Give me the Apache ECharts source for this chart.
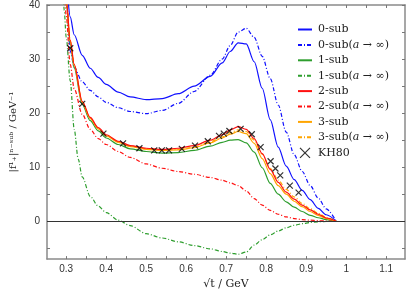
<!DOCTYPE html>
<html><head><meta charset="utf-8">
<script src="https://cdn.jsdelivr.net/npm/echarts@6/dist/echarts.min.js"></script>
<style>html,body{margin:0;padding:0;background:#fff}#c{width:407px;height:295px}</style>
</head><body><div id="c"></div>
<script>
// Shared sqrt(t) grid (GeV) for the solution curves
const xGrid = [0.295,0.30,0.31,0.32,0.34,0.36,0.38,0.40,0.43,0.46,0.50,0.54,0.58,0.62,0.66,0.69,0.71,0.73,0.75,0.77,0.79,0.81,0.83,0.85,0.87,0.89,0.91,0.93,0.95,0.975];
const sub0      = [50,43.5,37.8,34.5,30.7,28.3,26.6,25.3,23.9,23.0,22.5,22.7,23.6,25.0,26.8,29.3,31.4,33.0,32.8,29.5,24.6,18.8,13.7,10.2,7.7,5.7,4.0,2.4,1.2,0];
const sub0Inf   = [50,42,31.5,28.5,25.8,24.2,23.0,22.0,21.0,20.3,19.9,20.5,21.8,24.0,27.0,30.0,32.5,35.0,35.7,34.0,30.5,26.4,21.5,16.5,12.3,9.2,6.6,4.3,2.3,0];
const sub1      = [46,40.3,32.8,28.3,21.6,18.6,16.7,15.4,14.2,13.4,12.9,12.6,12.7,13.1,13.9,14.6,15.0,15.1,14.5,12.8,9.9,7.0,5.0,3.6,2.6,1.8,1.1,0.65,0.3,0];
const sub2      = [47,41.0,33.5,29.0,22.2,19.2,17.3,16.0,14.8,14.0,13.5,13.3,13.5,14.0,15.0,16.0,16.9,17.5,17.0,15.3,12.5,9.6,7.2,5.4,4.1,3.0,2.1,1.3,0.6,0];
const sub2Inf   = [44,38,29,24.5,19.8,17.0,15.3,14.2,12.9,11.8,10.6,9.8,9.2,8.7,8.1,7.6,7.1,6.6,5.6,4.2,3.0,2.0,1.3,0.8,0.5,0.3,0.2,0.1,0.05,0];
const sub3      = [46.5,40.8,33.3,28.8,22.0,19.0,17.1,15.8,14.6,13.8,13.3,13.1,13.2,13.6,14.5,15.4,16.1,16.6,16.2,14.4,11.6,8.8,6.6,5.0,3.7,2.7,1.8,1.1,0.5,0];
const sub3Inf   = [46.8,41.0,33.4,28.9,22.1,19.1,17.2,15.9,14.7,13.9,13.4,13.2,13.3,13.7,14.7,15.6,16.4,16.9,16.6,15.0,12.4,9.8,7.6,5.9,4.5,3.3,2.3,1.5,0.7,0];
// 1-sub(a->inf) has its own grid
const xGrid1Inf = [0.285,0.29,0.295,0.30,0.31,0.32,0.33,0.34,0.36,0.38,0.40,0.43,0.46,0.50,0.54,0.58,0.62,0.66,0.69,0.71,0.73,0.75,0.77,0.79,0.81,0.83,0.85,0.87,0.89,0.91,0.93,0.95,0.975];
const sub1Inf   = [58,48,39,34,26,17,11.5,8.2,4.6,2.8,1.6,0.2,-0.8,-2.3,-3.1,-3.8,-4.5,-5.1,-5.6,-5.9,-6.1,-5.7,-4.4,-3.4,-2.5,-1.8,-1.2,-0.75,-0.45,-0.22,-0.1,-0.04,0];
// KH80 data points
const khX = [0.310,0.340,0.393,0.442,0.483,0.520,0.539,0.557,0.589,0.622,0.654,0.682,0.694,0.708,0.736,0.764,0.786,0.811,0.823,0.835,0.859,0.881];
const khY = [32.0,21.7,16.2,14.4,13.5,13.1,13.1,13.1,13.4,14.0,14.8,15.8,16.2,16.7,17.1,16.1,13.7,11.1,9.75,8.5,6.6,5.3];
const xTicks = [0.3,0.35,0.4,0.45,0.5,0.55,0.6,0.65,0.7,0.75,0.8,0.85,0.9,0.95,1,1.05,1.1];
const xLabels = [0.3,0.4,0.5,0.6,0.7,0.8,0.9,1,1.1];
const yTicks = [-5,0,5,10,15,20,25,30,35,40];
const yLabels = [0,10,20,30,40];

const names = ['0-sub','0-sub(a → ∞)','1-sub','1-sub(a → ∞)','2-sub','2-sub(a → ∞)','3-sub','3-sub(a → ∞)','KH80'];
const BLUE='#1010ff', GREEN='#2e9e2e', RED='#ff1010', ORANGE='#ffa500';
const DASH=[4,2,1,2];
function pairs(xs, ys){ return xs.map((x,i)=>[x,ys[i]]); }
function line(name, xs, ys, color, dashed, z){
  return {name, type:'line', data:pairs(xs,ys), symbol:'none', smooth:0.3, smoothMonotone:'x', clip:true, z:z||2,
    lineStyle:{color, width:1.2, type: dashed?DASH:'solid'}, itemStyle:{color}};
}
const series = [
  line(names[0], xGrid, sub0, BLUE, false),
  line(names[1], xGrid, sub0Inf, BLUE, true),
  line(names[2], xGrid, sub1, GREEN, false),
  line(names[3], xGrid1Inf, sub1Inf, GREEN, true),
  line(names[4], xGrid, sub2, RED, false, 4),
  line(names[5], xGrid, sub2Inf, RED, true),
  line(names[6], xGrid, sub3, ORANGE, false, 3),
  line(names[7], xGrid, sub3Inf, ORANGE, true, 3),
  {name:names[8], type:'scatter', data:pairs(khX,khY), z:5,
   symbol:'path://M0,0L10,10M10,0L0,10', symbolSize:6,
   itemStyle:{color:'rgba(0,0,0,0)', borderColor:'#000', borderWidth:1.2}}
];
series[0].markLine = {silent:true, symbol:'none', label:{show:false}, data:[{yAxis:0}], lineStyle:{color:'#333', width:1, type:'solid'}};

const legendData = names.map((n,i)=> i<8
  ? {name:n, itemStyle:{color:'rgba(0,0,0,0)', borderColor:'rgba(0,0,0,0)', borderWidth:0}}
  : {name:n, itemStyle:{color:'rgba(0,0,0,0)', borderColor:'#000', borderWidth:1.2}});

const axisCommon = {
  axisLine:{show:true, onZero:false, lineStyle:{color:'#8a8a8a', width:1.5}},
  splitLine:{show:false}
};
const chart = echarts.init(document.getElementById('c'));
chart.setOption({
  animation:false,
  grid:{left:36, right:2, top:5, bottom:31, show:false},
  legend:{
    orient:'vertical', left:292, top:19, itemWidth:14, itemHeight:10, itemGap:4.4,
    data:legendData,
    formatter: n => n.replace('(a', '({i|a}'),
    textStyle:{fontFamily:'DejaVu Serif', fontSize:11, color:'#222', padding:[0,0,0,1],
      rich:{i:{fontFamily:'DejaVu Serif', fontStyle:'italic', fontSize:11, color:'#222'}}}
  },
  xAxis:[
    Object.assign({type:'value', min:0.252, max:1.147, position:'bottom',
      name:'√t / GeV', nameLocation:'middle', nameGap:14,
      nameTextStyle:{fontFamily:'DejaVu Serif', fontSize:11, color:'#222'},
      axisTick:{show:true, inside:true, length:3, customValues:xTicks, lineStyle:{color:'#777'}},
      axisLabel:{customValues:xLabels, fontFamily:'Liberation Sans', fontSize:10, color:'#333', margin:5}
    }, axisCommon),
    Object.assign({type:'value', min:0.252, max:1.147, position:'top',
      axisTick:{show:true, inside:true, length:3, customValues:xTicks, lineStyle:{color:'#777'}},
      axisLabel:{show:false}}, axisCommon)
  ],
  yAxis:[
    Object.assign({type:'value', min:-7, max:40, position:'left',
      name:'|f¹₊|ⁿ⁻ˢᵘᵇ / GeV⁻¹', nameLocation:'middle', nameGap:19, nameRotate:90,
      nameTextStyle:{fontFamily:'DejaVu Serif', fontSize:10, color:'#222'},
      axisTick:{show:true, inside:true, length:3, customValues:yTicks, lineStyle:{color:'#777'}},
      axisLabel:{customValues:yLabels, fontFamily:'Liberation Sans', fontSize:10, color:'#333', margin:7}
    }, axisCommon),
    Object.assign({type:'value', min:-7, max:40, position:'right',
      axisTick:{show:true, inside:true, length:3, customValues:yTicks, lineStyle:{color:'#777'}},
      axisLabel:{show:false}}, axisCommon)
  ],
  series
});
</script></body></html>
